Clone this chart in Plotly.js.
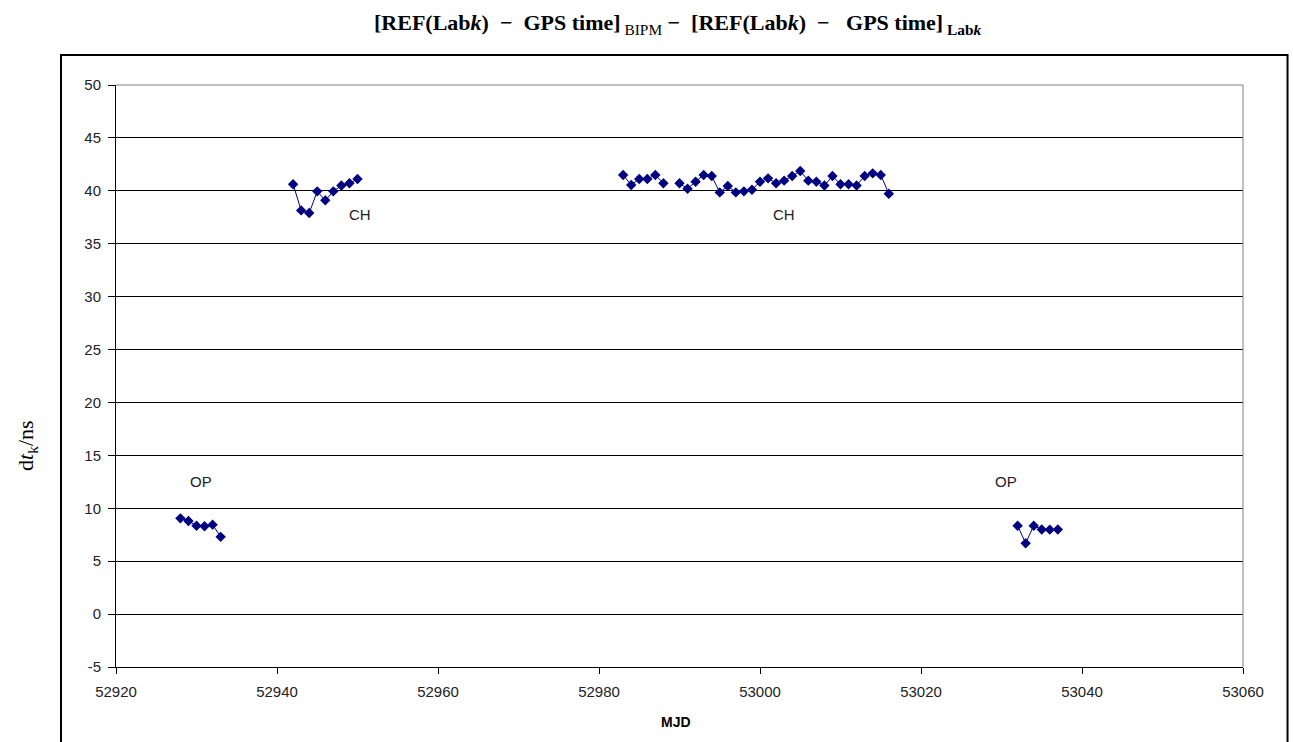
<!DOCTYPE html>
<html>
<head>
<meta charset="utf-8">
<script src="https://cdn.plot.ly/plotly-3.0.1.min.js"></script>
<style>html,body{margin:0;padding:0;background:#fff;}#chart{width:1293px;height:742px;}</style>
</head>
<body>
<div id="chart"></div>
<script>
// MJD and dt_k (ns)
var opMjd1 = [52928, 52929, 52930, 52931, 52932, 52933];
var opVal1 = [9.05, 8.8, 8.35, 8.3, 8.45, 7.3];

var chMjd1 = [52942, 52943, 52944, 52945, 52946, 52947, 52948, 52949, 52950];
var chVal1 = [40.62, 38.15, 37.9, 39.95, 39.1, 39.95, 40.5, 40.72, 41.12];

var chMjd2 = [52983, 52984, 52985, 52986, 52987, 52988, 52989, 52990, 52991, 52992, 52993, 52994,
              52995, 52996, 52997, 52998, 52999, 53000, 53001, 53002, 53003, 53004, 53005, 53006,
              53007, 53008, 53009, 53010, 53011, 53012, 53013, 53014, 53015, 53016];
var chVal2 = [41.5, 40.55, 41.12, 41.12, 41.5, 40.72, null, 40.72, 40.2, 40.86, 41.5, 41.4,
              39.85, 40.45, 39.85, 39.95, 40.1, 40.86, 41.18, 40.72, 40.96, 41.4, 41.87, 40.96,
              40.86, 40.5, 41.4, 40.62, 40.62, 40.5, 41.4, 41.65, 41.5, 39.72];

var opMjd2 = [53032, 53033, 53034, 53035, 53036, 53037];
var opVal2 = [8.35, 6.7, 8.35, 8.0, 7.98, 8.0];

var labelText = ["OP", "CH", "CH", "OP"];
var labelMjd = [52930.6, 52950.3, 53003.0, 53030.6];
var labelVal = [12.5, 37.8, 37.8, 12.5];

var xTicks = [52920, 52940, 52960, 52980, 53000, 53020, 53040, 53060];
var yTicks = [-5, 0, 5, 10, 15, 20, 25, 30, 35, 40, 45, 50];

var navy = "#000080";
function series(x, y) {
  return {
    x: x, y: y, type: "scatter", mode: "lines+markers",
    connectgaps: false,
    line: {color: navy, width: 1},
    marker: {symbol: "diamond", size: 8, color: navy},
    hoverinfo: "x+y", showlegend: false
  };
}
var data = [series(opMjd1, opVal1), series(chMjd1, chVal1), series(chMjd2, chVal2), series(opMjd2, opVal2)];

var sans = "Liberation Sans, Arial, sans-serif";
var serif = "Liberation Serif, Times New Roman, serif";

var annotations = labelText.map(function (t, i) {
  return {x: labelMjd[i], y: labelVal[i], xref: "x", yref: "y", text: t, showarrow: false,
          font: {family: sans, size: 15, color: "#222"}};
});
annotations.push({
  x: -0.0931, y: 0.38, xref: "paper", yref: "paper", showarrow: false, textangle: -90,
  text: "d<i>t</i><sub>k</sub>/ns",
  font: {family: serif, size: 22, color: "#000"}
});
annotations.push({
  x: 0.497, y: -0.0945, xref: "paper", yref: "paper", showarrow: false,
  text: "<b>MJD</b>", yanchor: "middle",
  font: {family: sans, size: 14, color: "#000"}
});
annotations.push({
  x: 0.4987, y: 1.105, xref: "paper", yref: "paper", showarrow: false, yanchor: "middle",
  text: "<b>[REF(Lab<i>k</i>)  −  GPS time]</b><sub> BIPM</sub><b> −  [REF(Lab<i>k</i>)  −   GPS time]</b><sub><b> Lab<i>k</i></b></sub>",
  font: {family: serif, size: 22, color: "#000"}
});

var layout = {
  width: 1293, height: 742,
  margin: {l: 116, r: 50, t: 85, b: 75, pad: 0},
  paper_bgcolor: "#fff", plot_bgcolor: "#fff",
  font: {family: sans, size: 15, color: "#222"},
  xaxis: {
    range: [52920, 53060], tickvals: xTicks, ticktext: xTicks.map(String),
    showgrid: false, zeroline: false, showline: true, linecolor: "#000", linewidth: 1,
    ticks: "outside", ticklen: 6, tickcolor: "#000", ticklabelstandoff: 5,
    tickfont: {family: sans, size: 15, color: "#222"}
  },
  yaxis: {
    range: [-5, 50], tickvals: yTicks, ticktext: yTicks.map(String),
    showgrid: true, gridcolor: "#000", gridwidth: 1, zeroline: false,
    showline: true, linecolor: "#000", linewidth: 1,
    ticks: "outside", ticklen: 7, tickcolor: "#000", ticklabelstandoff: 4,
    tickfont: {family: sans, size: 15, color: "#222"}
  },
  shapes: [
    {type: "line", xref: "paper", yref: "paper", x0: 0, x1: 1, y0: 1, y1: 1, line: {color: "#808080", width: 1}},
    {type: "line", xref: "paper", yref: "paper", x0: 1, x1: 1, y0: 0, y1: 1, line: {color: "#808080", width: 1}},
    {type: "rect", xref: "paper", yref: "paper", x0: -0.0488, x1: 1.0395, y0: -0.16, y1: 1.0515,
     line: {color: "#000", width: 2}, fillcolor: "rgba(0,0,0,0)"}
  ],
  annotations: annotations
};

Plotly.newPlot("chart", data, layout, {displayModeBar: false, staticPlot: true});
</script>
</body>
</html>
